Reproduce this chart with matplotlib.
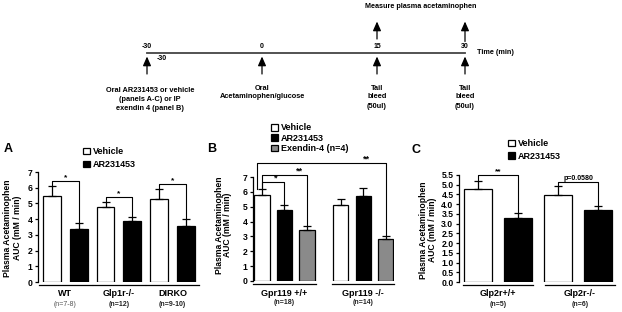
import matplotlib
matplotlib.use('Agg')
import matplotlib.pyplot as plt
from matplotlib.patches import Patch

plt.rcParams['font.family'] = ['Liberation Sans', 'DejaVu Sans']
plt.rcParams['font.weight'] = 'bold'

# Data
a_groups = ['WT', 'Glp1r-/-', 'DIRKO']
a_n = ['(n=7-8)', '(n=12)', '(n=9-10)']
a_vehicle = [5.5, 4.8, 5.27]
a_vehicle_err = [0.62, 0.27, 0.63]
a_ar = [3.35, 3.88, 3.54]
a_ar_err = [0.38, 0.23, 0.45]
a_sig = ['*', '*', '*']
a_sig_y = [6.44, 5.39, 6.25]

b_groups = ['Gpr119 +/+', 'Gpr119 -/-']
b_n = ['(n=18)', '(n=14)']
b_vehicle = [5.8, 5.1]
b_vehicle_err = [0.38, 0.43]
b_ar = [4.8, 5.75]
b_ar_err = [0.31, 0.54]
b_ex = [3.45, 2.82]
b_ex_err = [0.25, 0.23]

c_groups = ['Glp2r+/+', 'Glp2r-/-']
c_n = ['(n=5)', '(n=6)']
c_vehicle = [4.77, 4.48]
c_vehicle_err = [0.42, 0.45]
c_ar = [3.27, 3.70]
c_ar_err = [0.29, 0.23]
c_sig = ['**', 'p=0.0580']
c_sig_y = [5.5, 5.16]

time_labels = ['-30', '0', '15', '30']
time_notes = ['Oral AR231453 or vehicle\n(panels A-C) or IP\nexendin 4 (panel B)',
              'Oral\nAcetaminophen/glucose',
              'Tail\nbleed\n(50ul)',
              'Tail\nbleed\n(50ul)']

W, H = 622, 312
fig = plt.figure(figsize=(W / 100, H / 100), dpi=100)

def ax_at(l, r, b, t):
    return fig.add_axes([l / W, 1 - b / H, (r - l) / W, (b - t) / H])

def ftext(x, y, s, **kw):
    fig.text(x / W, 1 - y / H, s, **kw)

VEH = dict(color='white', edgecolor='black', linewidth=0.9)
ARC = dict(color='black', edgecolor='black', linewidth=0.9)
EXC = dict(color='#8a8a8a', edgecolor='black', linewidth=0.9)

def errs(ax, x, y, e):
    ax.errorbar(x, y, yerr=[[0] * len(e), e], fmt='none', ecolor='black',
                elinewidth=0.9, capsize=3.2, capthick=0.9, zorder=1)

def style(ax, yticks, labels):
    for s in ['top', 'right', 'bottom']:
        ax.spines[s].set_visible(False)
    ax.spines['left'].set_linewidth(0.9)
    ax.spines['left'].set_bounds(yticks[0], yticks[-1])
    ax.set_yticks(yticks)
    ax.set_yticklabels(labels, fontsize=6.2, fontweight='bold')
    ax.tick_params(axis='y', length=2.5, width=0.9, pad=1.5)
    ax.set_xticks([])

def bracket(ax, x1, x2, y, y1, y2, label, tx=None, fs=6.5):
    ax.plot([x1, x1, x2, x2], [y1, y, y, y2], color='black', lw=0.8, clip_on=False)
    if tx is None:
        tx = (x1 + x2) / 2
    ax.text(tx, y, label, ha='center', va='bottom', fontsize=fs, fontweight='bold')

def groups(ax, centers, half, names, ns, h_px, name_dy=12, n_dy=22, n_weights=None):
    tr = ax.get_xaxis_transform()
    for i, c in enumerate(centers):
        ax.plot([c - half, c + half], [-3 / h_px] * 2, color='black', lw=0.9,
                transform=tr, clip_on=False)
        ax.text(c, -name_dy / h_px, names[i], transform=tr, ha='center', va='center',
                fontsize=6.5, fontweight='bold')
        w = n_weights[i] if n_weights else 'bold'
        ax.text(c, -n_dy / h_px, ns[i], transform=tr, ha='center', va='center',
                fontsize=5, fontweight=w, color='#222222' if w == 'bold' else '#555555')

# Timeline
ax0 = fig.add_axes([0, 0, 1, 1])
ax0.set_xlim(0, W)
ax0.set_ylim(H, 0)
ax0.axis('off')
tx = [147, 262, 377, 465]
narrow = ['Liberation Sans Narrow', 'Liberation Sans', 'DejaVu Sans']
ax0.plot([tx[0], tx[-1]], [52.5, 52.5], color='#444444', lw=1.3)
head = dict(arrowstyle='-|>,head_length=0.5,head_width=0.22', color='black', lw=0.9,
            mutation_scale=11, shrinkA=0, shrinkB=0)
for i, x in enumerate(tx):
    ax0.text(x, 46, time_labels[i], ha='center', va='center', fontsize=5,
             family=narrow, fontweight='bold')
    ax0.annotate('', xy=(x, 56.5), xytext=(x, 74), arrowprops=head)
    ax0.text(x + (3 if i == 0 else 0), 84.5 if i else 87, time_notes[i], ha='center', va='top',
             fontsize=5.3, family=narrow, fontweight='bold', linespacing=1.4)
ax0.text(162, 58.5, '-30', ha='center', va='center', fontsize=5, family=narrow, fontweight='bold')
ax0.text(477, 52.5, 'Time (min)', ha='left', va='center', fontsize=5.2, family=narrow,
         fontweight='bold')
ax0.annotate('', xy=(tx[2], 21.5), xytext=(tx[2], 39), arrowprops=head)
ax0.annotate('', xy=(tx[3], 21.5), xytext=(tx[3], 41.5), arrowprops=head)
ax0.text(421, 6, 'Measure plasma acetaminophen', ha='center', va='center', fontsize=5.2,
         family=narrow, fontweight='bold')

# Panel A
axA = ax_at(38, 203, 282, 172)
xa_v = [0, 2, 4]
xa_a = [1, 3, 5]
axA.bar(xa_v, a_vehicle, width=0.67, **VEH)
axA.bar(xa_a, a_ar, width=0.67, **ARC)
errs(axA, xa_v, a_vehicle, a_vehicle_err)
errs(axA, xa_a, a_ar, a_ar_err)
axA.set_xlim(-0.52, 5.64)
axA.set_ylim(0, 7)
style(axA, list(range(8)), [str(v) for v in range(8)])
for i in range(3):
    bracket(axA, xa_v[i], xa_a[i], a_sig_y[i], a_vehicle[i] + a_vehicle_err[i],
            a_ar[i] + a_ar_err[i], a_sig[i], fs=6)
groups(axA, [0.5, 2.5, 4.5], 0.98, a_groups, a_n, 110,
       n_weights=['normal', 'bold', 'bold'])
axA.legend(handles=[Patch(facecolor='white', edgecolor='black', lw=0.9, label='Vehicle'),
                    Patch(facecolor='black', edgecolor='black', lw=0.9, label='AR231453')],
           loc='upper left', bbox_to_anchor=(83 / W, 1 - 147 / H), bbox_transform=fig.transFigure,
           frameon=False, fontsize=6.5, handlelength=0.75, handleheight=0.75,
           handletextpad=0.35, labelspacing=0.45, borderpad=0, borderaxespad=0)
ftext(8, 149, 'A', fontsize=9, fontweight='bold', ha='center', va='center')
ftext(8, 228, 'Plasma Acetaminophen', rotation=90, fontsize=6.2, ha='center', va='center')
ftext(17, 228, 'AUC (mM / min)', rotation=90, fontsize=6.2, ha='center', va='center')

# Panel B
axB = ax_at(253, 394, 281, 177)
xb_v = [0, 3.5]
xb_a = [1, 4.5]
xb_e = [2, 5.5]
axB.bar(xb_v, b_vehicle, width=0.67, **VEH)
axB.bar(xb_a, b_ar, width=0.67, **ARC)
axB.bar(xb_e, b_ex, width=0.67, **EXC)
errs(axB, xb_v, b_vehicle, b_vehicle_err)
errs(axB, xb_a, b_ar, b_ar_err)
errs(axB, xb_e, b_ex, b_ex_err)
axB.set_xlim(-0.4, 5.87)
axB.set_ylim(0, 7)
style(axB, list(range(8)), [str(v) for v in range(8)])
vtop = b_vehicle[0] + b_vehicle_err[0]
bracket(axB, -0.2, xb_e[1], 7.92, vtop, b_ex[1] + b_ex_err[1], '**', tx=4.65)
bracket(axB, 0, xb_e[0], 7.13, vtop, b_ex[0] + b_ex_err[0], '**', tx=1.65)
bracket(axB, 0, xb_a[0], 6.64, vtop, b_ar[0] + b_ar_err[0], '*', tx=0.62)
groups(axB, [1, 4.5], 1.38, b_groups, b_n, 104)
axB.legend(handles=[Patch(facecolor='white', edgecolor='black', lw=0.9, label='Vehicle'),
                    Patch(facecolor='black', edgecolor='black', lw=0.9, label='AR231453'),
                    Patch(facecolor='#8a8a8a', edgecolor='black', lw=0.9, label='Exendin-4 (n=4)')],
           loc='upper left', bbox_to_anchor=(271 / W, 1 - 123.5 / H), bbox_transform=fig.transFigure,
           frameon=False, fontsize=6.5, handlelength=0.75, handleheight=0.75,
           handletextpad=0.35, labelspacing=0.15, borderpad=0, borderaxespad=0)
ftext(212, 149, 'B', fontsize=9, fontweight='bold', ha='center', va='center')
ftext(219, 225, 'Plasma Acetaminophen', rotation=90, fontsize=6.2, ha='center', va='center')
ftext(228, 225, 'AUC (mM / min)', rotation=90, fontsize=6.2, ha='center', va='center')

# Panel C
axC = ax_at(459, 618, 282, 175)
xc_v = [0, 2]
xc_a = [1, 3]
axC.bar(xc_v, c_vehicle, width=0.69, **VEH)
axC.bar(xc_a, c_ar, width=0.69, **ARC)
errs(axC, xc_v, c_vehicle, c_vehicle_err)
errs(axC, xc_a, c_ar, c_ar_err)
axC.set_xlim(-0.48, 3.5)
axC.set_ylim(0, 5.5)
cticks = [i * 0.5 for i in range(12)]
style(axC, cticks, ['%.1f' % v for v in cticks])
for i in range(2):
    bracket(axC, xc_v[i], xc_a[i], c_sig_y[i], c_vehicle[i] + c_vehicle_err[i],
            c_ar[i] + c_ar_err[i], c_sig[i], fs=6 if i == 0 else 5)
groups(axC, [0.5, 2.55], 0.87, c_groups, c_n, 107)
axC.legend(handles=[Patch(facecolor='white', edgecolor='black', lw=0.9, label='Vehicle'),
                    Patch(facecolor='black', edgecolor='black', lw=0.9, label='AR231453')],
           loc='upper left', bbox_to_anchor=(508 / W, 1 - 139 / H), bbox_transform=fig.transFigure,
           frameon=False, fontsize=6.5, handlelength=0.75, handleheight=0.75,
           handletextpad=0.35, labelspacing=0.4, borderpad=0, borderaxespad=0)
ftext(416, 150, 'C', fontsize=9, fontweight='bold', ha='center', va='center')
ftext(423, 230, 'Plasma Acetaminophen', rotation=90, fontsize=6.2, ha='center', va='center')
ftext(432, 230, 'AUC (mM / min)', rotation=90, fontsize=6.2, ha='center', va='center')

fig.savefig('out.png', dpi=100)
